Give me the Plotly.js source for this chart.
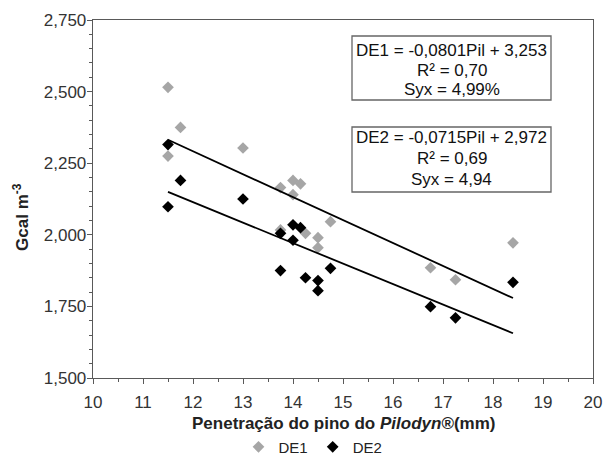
<!DOCTYPE html>
<html><head><meta charset="utf-8">
<script src="https://cdn.plot.ly/plotly-3.0.1.min.js"></script>
<style>html,body{margin:0;padding:0;background:#fff}</style>
</head><body><div id="chart" style="width:603px;height:462px"></div>
<script>
// DE1 (gray) observations
const de1X = [11.5, 11.75, 11.5, 13.0, 13.75, 14.0, 14.15, 14.0, 14.75, 13.75, 14.25, 14.5, 14.5, 18.4, 16.75, 17.25];
const de1Y = [2.515, 2.375, 2.275, 2.303, 2.165, 2.190, 2.178, 2.140, 2.046, 2.017, 2.005, 1.990, 1.955, 1.972, 1.885, 1.843];
// DE2 (black) observations
const de2X = [11.5, 11.75, 11.5, 13.0, 14.0, 14.15, 13.75, 14.0, 13.75, 14.25, 14.5, 14.5, 14.75, 18.4, 16.75, 17.25];
const de2Y = [2.315, 2.190, 2.098, 2.125, 2.035, 2.025, 2.005, 1.981, 1.875, 1.850, 1.840, 1.805, 1.883, 1.834, 1.749, 1.710];
// Linear trendlines (from the equations shown on the chart)
const trendRangeX = [11.5, 18.4];
const de1Slope = -0.0801, de1Intercept = 3.253;
const de2Slope = -0.0715, de2Intercept = 2.972;
const xTicks = [10, 11, 12, 13, 14, 15, 16, 17, 18, 19, 20];
const yTicks = [1.5, 1.75, 2.0, 2.25, 2.5, 2.75];
const box1Lines = ["DE1 = -0,0801Pil + 3,253", "R² = 0,70", "Syx = 4,99%"];
const box2Lines = ["DE2 = -0,0715Pil + 2,972", "R² = 0,69", "Syx = 4,94"];

const font = "Liberation Sans, Arial, sans-serif";
const axisCol = "#595959";

const traces = [
  {x: de1X, y: de1Y, type: "scatter", mode: "markers", name: "DE1",
   marker: {symbol: "diamond", size: 9, color: "#a6a6a6"}},
  {x: de2X, y: de2Y, type: "scatter", mode: "markers", name: "DE2",
   marker: {symbol: "diamond", size: 9, color: "#000000"}},
  {x: trendRangeX, y: trendRangeX.map(v => de1Slope * v + de1Intercept), type: "scatter", mode: "lines",
   showlegend: false, line: {color: "#000", width: 1.8}, hoverinfo: "skip"},
  {x: trendRangeX, y: trendRangeX.map(v => de2Slope * v + de2Intercept), type: "scatter", mode: "lines",
   showlegend: false, line: {color: "#000", width: 1.8}, hoverinfo: "skip"}
];

const boxTextY1 = [0.9162, 0.8603, 0.8045];
const boxTextY2 = [0.6704, 0.6127, 0.5540];
const boxAnn = [];
box1Lines.forEach((t, i) => boxAnn.push({xref: "paper", yref: "paper", x: 0.717, y: boxTextY1[i],
  xanchor: "center", yanchor: "middle", showarrow: false, text: t,
  font: {family: font, size: 17, color: "#111"}}));
box2Lines.forEach((t, i) => boxAnn.push({xref: "paper", yref: "paper", x: 0.717, y: boxTextY2[i],
  xanchor: "center", yanchor: "middle", showarrow: false, text: t,
  font: {family: font, size: 17, color: "#111"}}));

const layout = {
  width: 603, height: 462,
  margin: {l: 93, r: 10, t: 20, b: 84, autoexpand: false},
  paper_bgcolor: "#fff", plot_bgcolor: "#fff",
  separators: ",.",
  font: {family: font, size: 17, color: "#333"},
  xaxis: {
    range: [10, 20], tickvals: xTicks, showgrid: false, zeroline: false, automargin: false,
    showline: true, mirror: true, linecolor: axisCol, linewidth: 1.3,
    ticks: "outside", ticklen: 5, tickcolor: axisCol, tickwidth: 1,
    minor: {dtick: 0.5, ticks: "outside", ticklen: 3, tickcolor: axisCol, showgrid: false},
    tickfont: {family: font, size: 17, color: "#333"}, ticklabelstandoff: 3
  },
  yaxis: {
    range: [1.5, 2.75], tickvals: yTicks, tickformat: ".3f", showgrid: false, zeroline: false, automargin: false,
    showline: true, mirror: true, linecolor: axisCol, linewidth: 1.3,
    ticks: "outside", ticklen: 5, tickcolor: axisCol, tickwidth: 1,
    minor: {dtick: 0.05, ticks: "outside", ticklen: 3, tickcolor: axisCol, showgrid: false},
    tickfont: {family: font, size: 17, color: "#333"}, ticklabelstandoff: -3
  },
  showlegend: true,
  legend: {orientation: "h", x: 0.44, xanchor: "center", y: -0.193, yanchor: "middle",
           font: {family: font, size: 15, color: "#222"}, itemwidth: 30, tracegroupgap: 0},
  shapes: [
    {type: "rect", xref: "paper", yref: "paper", x0: 0.518, x1: 0.916, y0: 0.7765, y1: 0.9553,
     line: {color: "#666", width: 1.3}, fillcolor: "#fff", layer: "below"},
    {type: "rect", xref: "paper", yref: "paper", x0: 0.518, x1: 0.916, y0: 0.5196, y1: 0.7011,
     line: {color: "#666", width: 1.3}, fillcolor: "#fff", layer: "below"}
  ],
  annotations: [
    {xref: "paper", yref: "paper", x: -0.144, y: 0.45, xanchor: "center", yanchor: "middle",
     textangle: -90, showarrow: false, text: "<b>Gcal m<sup>-3</sup></b>",
     font: {family: font, size: 17, color: "#222"}},
    {xref: "paper", yref: "paper", x: 0.5, y: -0.126, xanchor: "center", yanchor: "middle",
     showarrow: false, text: "<b>Penetração do pino do <i>Pilodyn</i>®(mm)</b>",
     font: {family: font, size: 17, color: "#222"}}
  ].concat(boxAnn)
};

Plotly.newPlot("chart", traces, layout, {displayModeBar: false, staticPlot: true});
</script></body></html>
